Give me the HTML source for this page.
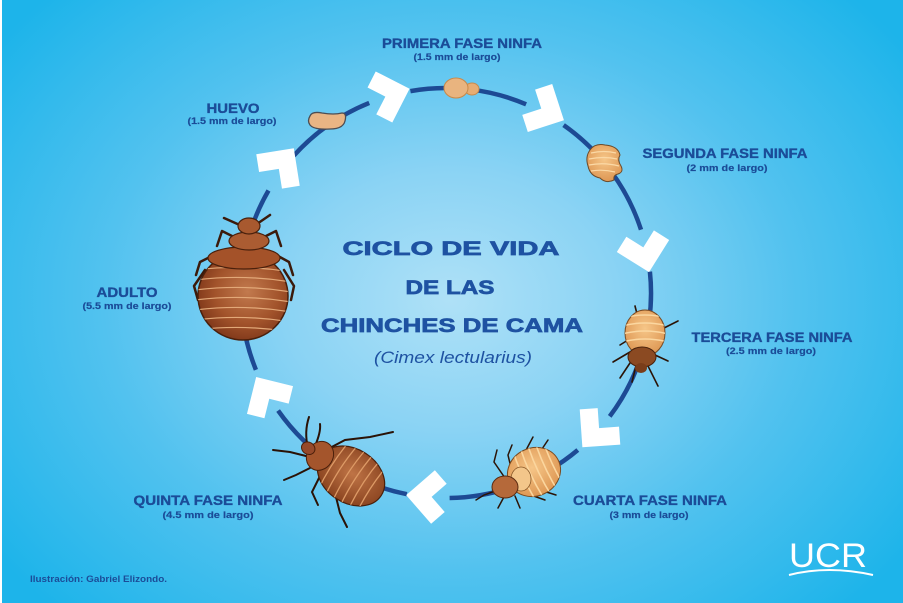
<!DOCTYPE html>
<html><head><meta charset="utf-8">
<style>
html,body{margin:0;padding:0;width:903px;height:603px;overflow:hidden;background:#fff;}
svg{display:block;}
</style></head><body>
<svg width="903" height="603" viewBox="0 0 903 603" xmlns="http://www.w3.org/2000/svg">
<defs>
<radialGradient id="bg" cx="450" cy="300" r="560" gradientUnits="userSpaceOnUse" gradientTransform="translate(450 300) scale(1 0.78) translate(-450 -300)">
<stop offset="0" stop-color="#afe1f7"/>
<stop offset="0.3" stop-color="#8ad3f4"/>
<stop offset="0.62" stop-color="#52c2ef"/>
<stop offset="1" stop-color="#1db4ea"/>
</radialGradient>
<radialGradient id="adultG" cx="0.55" cy="0.45" r="0.6">
<stop offset="0" stop-color="#c27a4e"/>
<stop offset="0.6" stop-color="#a2532b"/>
<stop offset="1" stop-color="#7c3518"/>
</radialGradient>
<radialGradient id="quintaG" cx="0.5" cy="0.45" r="0.6">
<stop offset="0" stop-color="#bf7446"/>
<stop offset="1" stop-color="#86401d"/>
</radialGradient>
<radialGradient id="tanG" cx="0.5" cy="0.4" r="0.65">
<stop offset="0" stop-color="#f6c688"/>
<stop offset="1" stop-color="#dc9450"/>
</radialGradient>
<clipPath id="adultClip"><ellipse cx="243" cy="296" rx="45" ry="44"/></clipPath>
<clipPath id="quintaClip"><ellipse cx="0" cy="0" rx="36" ry="27"/></clipPath>
<clipPath id="cuartaClip"><ellipse cx="0" cy="0" rx="27" ry="24"/></clipPath>
<clipPath id="terceraClip"><ellipse cx="645" cy="333" rx="20" ry="23"/></clipPath>
<polygon id="chev" points="-19,-19 -1,-19 -1,1 19,1 19,19 -19,19" fill="#ffffff"/>
</defs>

<rect x="0" y="0" width="903" height="603" fill="url(#bg)"/>
<rect x="0" y="0" width="2" height="603" fill="#ffffff"/>

<!-- circle arcs -->
<g fill="none" stroke="#1d4a94" stroke-width="4.5" stroke-linecap="butt">
<path d="M410.4,91.1 A205,205 0 0 1 526.1,104.3"/>
<path d="M563.6,125.1 A205,205 0 0 1 641.0,229.7"/>
<path d="M649.9,271.6 A205,205 0 0 1 609.7,416.4"/>
<path d="M577.8,450.0 A205,205 0 0 1 449.6,498.0"/>
<path d="M406.9,494.2 A205,205 0 0 1 278.1,410.6"/>
<path d="M255.9,369.8 A205,205 0 0 1 268.5,190.5"/>
<path d="M293.7,155.8 A205,205 0 0 1 369.2,102.9"/>
</g>

<!-- chevrons -->
<use href="#chev" transform="translate(384 97) rotate(-153)"/>
<use href="#chev" transform="translate(540 108) rotate(-108)"/>
<use href="#chev" transform="translate(643 246) rotate(-58)"/>
<use href="#chev" transform="translate(600 427) rotate(-4)"/>
<use href="#chev" transform="translate(433 497) rotate(49)"/>
<use href="#chev" transform="translate(270 400) rotate(104)"/>
<use href="#chev" transform="translate(278 170) rotate(171)"/>

<!-- egg -->
<path d="M310,116 Q312,111 322,113 Q334,115 342,113 Q347,113 345,121 Q343,129 330,129 Q314,130 310,125 Q307,121 310,116 Z" fill="#e9b584" stroke="#4d4d52" stroke-width="1.3"/>

<!-- primera fase -->
<g stroke="#c98a4a" stroke-width="1">
<ellipse cx="472" cy="89" rx="7" ry="6" fill="#e6ad74"/>
<ellipse cx="456" cy="88" rx="12" ry="10" fill="#e9b47f"/>
</g>

<!-- segunda fase -->
<g>
<path d="M590,150 Q595,143 605,145 Q618,146 620,155 Q617,160 621,166 Q624,172 618,174 Q613,175 614,180 Q606,184 600,178 Q590,176 588,166 Q585,157 590,150 Z" fill="url(#tanG)" stroke="#6a4a2a" stroke-width="1"/>
<g stroke="#fbd9a6" stroke-width="1.2" fill="none">
<path d="M591,153 Q604,150 616,153"/>
<path d="M589,159 Q604,156 617,159"/>
<path d="M589,165 Q604,162 619,166"/>
<path d="M591,171 Q603,169 615,172"/>
</g>
</g>

<!-- tercera fase -->
<g>
<g stroke="#2b1407" stroke-width="1.6" fill="none" stroke-linecap="round">
<path d="M638,318 L635,306"/>
<path d="M660,330 L678,321"/>
<path d="M630,352 L613,362"/>
<path d="M632,360 L620,378"/>
<path d="M655,355 L668,361"/>
<path d="M648,366 L658,386"/>
<path d="M636,366 L632,382"/>
<path d="M628,340 L620,345"/>
</g>
<ellipse cx="645" cy="333" rx="20" ry="23" fill="url(#tanG)" stroke="#7a4a22" stroke-width="1"/>
<g clip-path="url(#terceraClip)" stroke="#fbd7a0" stroke-width="1.5" fill="none">
<path d="M622,318 Q645,312 668,318"/>
<path d="M622,326 Q645,320 668,326"/>
<path d="M622,334 Q645,328 668,334"/>
<path d="M622,342 Q645,336 668,342"/>
</g>
<ellipse cx="642" cy="357" rx="14" ry="10" fill="#8b4a22" stroke="#4a220c" stroke-width="1"/>
<ellipse cx="641" cy="368" rx="6" ry="5" fill="#7a3d1a"/>
</g>

<!-- cuarta fase -->
<g>
<g stroke="#2b1407" stroke-width="1.5" fill="none" stroke-linecap="round">
<path d="M505,478 L494,462 L497,450"/>
<path d="M512,472 L508,455 L512,445"/>
<path d="M525,452 L533,437"/>
<path d="M540,452 L548,440"/>
<path d="M498,490 L484,495 L476,500"/>
<path d="M505,495 L498,508"/>
<path d="M515,496 L520,508"/>
<path d="M528,494 L545,500"/>
<path d="M540,490 L556,495"/>
</g>
<g transform="translate(534 472) rotate(-25)">
<ellipse cx="0" cy="0" rx="27" ry="24" fill="url(#tanG)" stroke="#7a4a20" stroke-width="1"/>
<g clip-path="url(#cuartaClip)" stroke="#fbd69e" stroke-width="1.6" fill="none">
<path d="M-10,-30 Q-14,0 -10,30"/>
<path d="M-2,-30 Q-6,0 -2,30"/>
<path d="M6,-30 Q2,0 6,30"/>
<path d="M14,-30 Q10,0 14,30"/>
<path d="M22,-30 Q18,0 22,30"/>
</g>
</g>
<ellipse cx="521" cy="479" rx="10" ry="12" fill="#f3c68a" stroke="#8a5a2a" stroke-width="0.8"/>
<ellipse cx="505" cy="487" rx="13" ry="11" fill="#b5693a" stroke="#5a2a10" stroke-width="1"/>
</g>

<!-- quinta fase -->
<g>
<g stroke="#2a1206" stroke-width="2" fill="none" stroke-linecap="round">
<path d="M308,448 Q304,432 309,417"/>
<path d="M315,446 Q321,432 320,424"/>
<path d="M306,456 L290,452 L273,450"/>
<path d="M310,468 L296,475 L284,480"/>
<path d="M326,450 L345,440 L370,437 L393,432"/>
<path d="M335,493 L340,513 L347,527"/>
<path d="M320,476 L312,492 L318,505"/>
</g>
<g transform="translate(351 476) rotate(33)">
<ellipse cx="0" cy="0" rx="36" ry="27" fill="url(#quintaG)" stroke="#4a1f0a" stroke-width="1.2"/>
<g clip-path="url(#quintaClip)" stroke="#dd9a66" stroke-width="1.3" fill="none">
<path d="M-20,-30 Q-24,0 -20,30"/>
<path d="M-11,-30 Q-15,0 -11,30"/>
<path d="M-2,-30 Q-6,0 -2,30"/>
<path d="M7,-30 Q3,0 7,30"/>
<path d="M16,-30 Q12,0 16,30"/>
<path d="M25,-30 Q21,0 25,30"/>
</g>
<ellipse cx="-37" cy="0" rx="13" ry="15" fill="#a4552c" stroke="#4a1f0a" stroke-width="1"/>
<ellipse cx="-51" cy="0" rx="7" ry="6" fill="#96492a" stroke="#4a1f0a" stroke-width="1"/>
</g>
</g>

<!-- adult -->
<g>
<g stroke="#3b1a0b" stroke-width="2.5" fill="none" stroke-linecap="round" stroke-linejoin="round">
<path d="M242,226 L224,218"/>
<path d="M254,226 L270,215"/>
<path d="M236,238 L222,231 L217,246"/>
<path d="M262,238 L276,231 L281,246"/>
<path d="M212,256 L200,262 L196,275"/>
<path d="M278,256 L289,262 L293,275"/>
<path d="M205,270 L194,286 L198,300"/>
<path d="M284,270 L294,286 L291,300"/>
</g>
<ellipse cx="243" cy="296" rx="45" ry="44" fill="url(#adultG)" stroke="#4a200c" stroke-width="1.5"/>
<g clip-path="url(#adultClip)" stroke="#e2a878" stroke-width="1.2" fill="none">
<path d="M195,270 Q243,264 291,272"/>
<path d="M195,280 Q243,274 291,282"/>
<path d="M195,290 Q243,284 291,292"/>
<path d="M195,300 Q243,294 291,302"/>
<path d="M195,310 Q243,304 291,312"/>
<path d="M195,320 Q243,314 291,322"/>
<path d="M195,330 Q243,324 291,332"/>
</g>
<ellipse cx="244" cy="258" rx="36" ry="11" fill="#a45229" stroke="#4a200c" stroke-width="1.2"/>
<ellipse cx="249" cy="241" rx="20" ry="9" fill="#ab5c32" stroke="#4a200c" stroke-width="1.2"/>
<ellipse cx="249" cy="226" rx="11" ry="8" fill="#a8592f" stroke="#4a200c" stroke-width="1.2"/>
</g>

<!-- labels -->
<g font-family="'Liberation Sans', sans-serif" font-weight="bold" fill="#1b4c98" stroke="#1b4c98" stroke-width="0.35" text-anchor="middle">
<text x="462" y="48" font-size="13.5" textLength="160" lengthAdjust="spacingAndGlyphs">PRIMERA FASE NINFA</text>
<text x="457" y="60" font-size="9.5" stroke-width="0.2" textLength="87" lengthAdjust="spacingAndGlyphs">(1.5 mm de largo)</text>
<text x="233" y="113" font-size="13.5" textLength="53" lengthAdjust="spacingAndGlyphs">HUEVO</text>
<text x="232" y="124" font-size="9.5" stroke-width="0.2" textLength="89" lengthAdjust="spacingAndGlyphs">(1.5 mm de largo)</text>
<text x="725" y="158" font-size="13.5" textLength="165" lengthAdjust="spacingAndGlyphs">SEGUNDA FASE NINFA</text>
<text x="727" y="171" font-size="9.5" stroke-width="0.2" textLength="81" lengthAdjust="spacingAndGlyphs">(2 mm de largo)</text>
<text x="772" y="342" font-size="13.5" textLength="161" lengthAdjust="spacingAndGlyphs">TERCERA FASE NINFA</text>
<text x="771" y="354" font-size="9.5" stroke-width="0.2" textLength="90" lengthAdjust="spacingAndGlyphs">(2.5 mm de largo)</text>
<text x="650" y="505" font-size="13.5" textLength="154" lengthAdjust="spacingAndGlyphs">CUARTA FASE NINFA</text>
<text x="649" y="518" font-size="9.5" stroke-width="0.2" textLength="79" lengthAdjust="spacingAndGlyphs">(3 mm de largo)</text>
<text x="208" y="505" font-size="13.5" textLength="149" lengthAdjust="spacingAndGlyphs">QUINTA FASE NINFA</text>
<text x="208" y="518" font-size="9.5" stroke-width="0.2" textLength="91" lengthAdjust="spacingAndGlyphs">(4.5 mm de largo)</text>
<text x="127" y="297" font-size="13.5" textLength="61" lengthAdjust="spacingAndGlyphs">ADULTO</text>
<text x="127" y="309" font-size="9.5" stroke-width="0.2" textLength="89" lengthAdjust="spacingAndGlyphs">(5.5 mm de largo)</text>
</g>
<text x="30" y="582" font-family="'Liberation Sans', sans-serif" font-weight="bold" font-size="9" fill="#1b4c98" textLength="137" lengthAdjust="spacingAndGlyphs">Ilustración: Gabriel Elizondo.</text>

<!-- title -->
<g font-family="'Liberation Sans', sans-serif" font-weight="bold" fill="#1e52a2" stroke="#1e52a2" stroke-width="0.7" text-anchor="middle">
<text x="451" y="255" font-size="19.5" textLength="217" lengthAdjust="spacingAndGlyphs">CICLO DE VIDA</text>
<text x="450" y="294" font-size="19.5" textLength="89" lengthAdjust="spacingAndGlyphs">DE LAS</text>
<text x="452" y="332" font-size="19.5" textLength="262" lengthAdjust="spacingAndGlyphs">CHINCHES DE CAMA</text>
</g>
<text x="453" y="363" font-family="'Liberation Sans', sans-serif" font-style="italic" font-size="16.5" fill="#1e52a2" text-anchor="middle" textLength="158" lengthAdjust="spacingAndGlyphs">(Cimex lectularius)</text>

<!-- UCR logo -->
<text x="828" y="567" font-family="'Liberation Sans Narrow', 'Liberation Sans', sans-serif" font-size="34" fill="#ffffff" text-anchor="middle" textLength="78" lengthAdjust="spacingAndGlyphs">UCR</text>
<path d="M789,575 Q828,565 873,575" fill="none" stroke="#ffffff" stroke-width="2"/>
</svg>
</body></html>
